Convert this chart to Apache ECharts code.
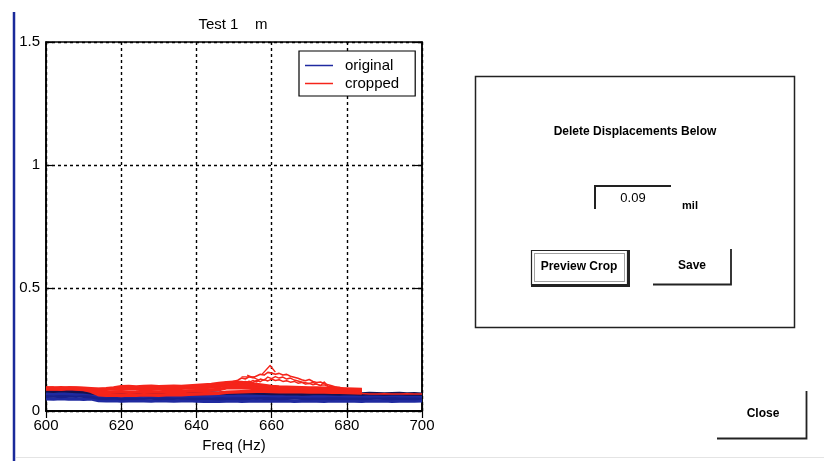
<!DOCTYPE html>
<html>
<head>
<meta charset="utf-8">
<script src="https://cdn.jsdelivr.net/npm/echarts@6/dist/echarts.min.js"></script>
<style>
  html, body { margin: 0; padding: 0; background: #fff; }
  #chart { width: 824px; height: 461px; }
</style>
</head>
<body>
<div id="chart"></div>
<script>
// Frequency grid (Hz) shared by the dense traces
const freq = [600,602,604,606,608,610,612,614,616,618,620,622,624,626,628,630,632,634,636,638,640,642,644,646,648,650,652,654,656,658,660,662,664,666,668,670,672,674,676,678,680,682,684,686,688,690,692,694,696,698,700];

// Original displacement traces (mil)
const blueA = [0.050,0.049,0.051,0.049,0.050,0.048,0.050, 0.043,0.042,0.043,0.041,0.042,0.043,0.042,0.041,0.043,0.042,0.041,0.042,0.043, 0.041,0.040,0.041,0.040,0.041,0.042,0.040,0.041,0.042,0.041, 0.042,0.041,0.042,0.040,0.041,0.042,0.041,0.040,0.042,0.041,0.042,0.041,0.040,0.042,0.041,0.042,0.040,0.041,0.042,0.041,0.042];
const blueB = [0.060,0.062,0.059,0.061,0.063,0.060,0.058, 0.053,0.052,0.054,0.051,0.053,0.052,0.054,0.053,0.051,0.053,0.052,0.054,0.052, 0.051,0.053,0.052,0.050,0.052,0.053,0.051,0.052,0.054,0.052, 0.053,0.051,0.052,0.054,0.052,0.051,0.053,0.052,0.051,0.053,0.052,0.053,0.051,0.052,0.054,0.052,0.051,0.053,0.052,0.051,0.053];
const blueC = [0.072,0.070,0.073,0.071,0.069,0.072,0.070, 0.063,0.062,0.064,0.061,0.063,0.062,0.060,0.063,0.062,0.064,0.061,0.062,0.063, 0.062,0.063,0.061,0.064,0.062,0.063,0.064,0.062,0.063,0.065, 0.063,0.062,0.064,0.063,0.062,0.061,0.063,0.062,0.064,0.063,0.062,0.063,0.062,0.061,0.063,0.062,0.064,0.062,0.063,0.062,0.061];
const blueD = [0.082,0.080,0.083,0.081,0.079,0.078,0.074, 0.070,0.071,0.069,0.072,0.070,0.071,0.069,0.070,0.072,0.071,0.070,0.069,0.071, 0.072,0.071,0.073,0.072,0.074,0.073,0.075,0.074,0.073,0.072, 0.071,0.072,0.070,0.071,0.069,0.070,0.072,0.071,0.070,0.069,0.071,0.070,0.069,0.071,0.070,0.069,0.070,0.071,0.069,0.070,0.068];

// Cropped displacement traces (mil)
const redA = [0.090,0.091,0.089,0.092,0.090,0.088,0.080, 0.066,0.064,0.065,0.063,0.065,0.064,0.066,0.065,0.064,0.066,0.067,0.066,0.068,0.069,0.070,0.071,0.072, 0.076,0.077,0.078,0.079,0.080,0.080,0.079, 0.078,0.078,0.079,0.078,0.077,0.078,0.077,0.076,0.076,0.075, 0.074,0.073, null,null,null,null,null,null,null,null];
const redB = [0.089,0.090,0.088,0.091,0.089,0.087,0.084, 0.076,0.075,0.077,0.078,0.076,0.077,0.079,0.078,0.077,0.079,0.080,0.079,0.081,0.082,0.083,0.085,0.087, 0.094,0.096,0.095,0.093,0.090,0.088,0.087, 0.086,0.085,0.085,0.084,0.083,0.083,0.082,0.082,0.081,0.080, 0.080,0.079, null,null,null,null,null,null,null,null];
const redC = [0.092,0.093,0.091,0.094,0.092,0.090,0.087, 0.087,0.088,0.090,0.089,0.091,0.090,0.092,0.091,0.090,0.092,0.093,0.092,0.094,0.095,0.096,0.098,0.100, 0.105,0.107,0.106,0.103,0.099,0.096,0.094, 0.092,0.091,0.090,0.089,0.088,0.088,0.087,0.086,0.086,0.085, 0.084,0.083, null,null,null,null,null,null,null,null];
const redD = [0.094,0.093,0.095,0.093,0.094,0.092,0.090, 0.088,0.090,0.094, 0.099,0.100,0.098,0.100,0.101,0.099,0.100,0.101,0.100,0.102,0.104,0.106,0.108,0.112, 0.115,0.117,0.116,0.112,0.108,0.104,0.100, 0.098,0.097,0.096,0.095,0.094,0.093,0.092,0.091,0.090,0.089, 0.088,0.087, null,null,null,null,null,null,null,null];
const redTail = [null,null,null,null,null,null,null,null,null,null,null,null,null,null,null,null,null,null,null,null,null,null,null,null,null,null,null,null,null,null,null,null,null,null,null,null,null,null,null,null,null, 0.075,0.071,0.069,0.069,0.070,0.069,0.069,0.070,0.069,0.069];

// Finer grid around the resonance bump
const bumpFreq = [644,645,646,647,648,649,650,651,652,653,654,655,656,657,658,659,660,661,662,663,664,665,666,667,668,669,670,671,672,673,674,675,676,677,678,679,680,681,682,683,684,685,686];
const bumpOuter = [0.104,0.108,0.115,0.112,0.118,0.116,0.121,0.125,0.134,0.130,0.139,0.135,0.142,0.149,0.146,0.157,0.154,0.149,0.153,0.146,0.149,0.141,0.137,0.133,0.127,0.123,0.128,0.120,0.116,0.118,0.111,0.107,0.103,0.098,0.094,0.088,0.086,0.088,0.090,0.088,0.089,null,null];
const bumpInner = [0.100,0.104,0.102,0.108,0.105,0.112,0.109,0.115,0.112,0.120,0.116,0.124,0.118,0.130,0.125,0.138,0.132,0.140,0.134,0.138,0.130,0.134,0.126,0.122,0.118,0.115,0.112,0.116,0.108,0.104,0.106,0.100,0.097,0.093,0.090,0.086,0.084,0.082,0.083,null,null,null,null];
const bumpMid = [0.098,0.100,0.106,0.103,0.110,0.107,0.114,0.110,0.118,0.113,0.121,0.115,0.125,0.119,0.128,0.122,0.130,0.124,0.127,0.120,0.123,0.117,0.120,0.113,0.116,0.109,0.112,0.106,0.110,0.103,0.118,0.101,0.099,0.095,0.097,0.092,0.090,0.091,0.087,0.085,0.086,null,null];

// Short stray strokes near the peak
const spikeFreq = [657.5, 659.6, 661.0];
const spikeVal = [0.150, 0.185, 0.158];
const strayFreq1 = [653.5, 656.7];
const strayVal1 = [0.146, 0.126];
const strayFreq2 = [652.0, 655.6];
const strayVal2 = [0.139, 0.139];

// Axis ticks
const xTicks = { min: 600, max: 700, step: 20 };
const yTicks = { min: 0, max: 1.5, step: 0.5 };

const FONT = "'Liberation Sans', Arial, Helvetica, sans-serif";
const BLUE = '#1f2aa0';
const NAVY = '#121250';
const RED = '#f5241a';

function pairs(xs, ys) {
  const out = [];
  for (let i = 0; i < xs.length; i++) {
    if (ys[i] !== null && ys[i] !== undefined) out.push([xs[i], ys[i]]);
  }
  return out;
}

function trace(name, xs, ys, color, width) {
  return {
    name: name,
    type: 'line',
    data: pairs(xs, ys),
    showSymbol: false,
    symbol: 'none',
    silent: true,
    animation: false,
    itemStyle: { color: name === 'original' ? BLUE : RED },
    lineStyle: { color: color, width: width, join: 'round' },
    emphasis: { disabled: true }
  };
}

const chart = echarts.init(document.getElementById('chart'), null, { renderer: 'canvas' });

const axisLineStyle = { color: '#000', width: 1.5 };
const gridDash = { color: '#000', width: 1.4, type: [3, 3] };
const tickStyle = { show: true, inside: true, length: 7, lineStyle: { color: '#000', width: 1.2 } };

chart.setOption({
  backgroundColor: '#fff',
  animation: false,
  title: {
    text: 'Test 1    m',
    left: 233,
    top: 17,
    padding: 0,
    textAlign: 'center',
    textStyle: { fontFamily: FONT, fontSize: 15, fontWeight: 'normal', color: '#000' }
  },
  legend: {
    data: ['original', 'cropped'],
    orient: 'vertical',
    left: 299,
    top: 51,
    padding: [7, 16, 5, 6],
    itemWidth: 28,
    itemHeight: 1.5,
    itemGap: 3,
    icon: 'rect',
    backgroundColor: '#fff',
    borderColor: '#000',
    borderWidth: 1.2,
    selectedMode: false,
    textStyle: { fontFamily: FONT, fontSize: 15, color: '#000', lineHeight: 15, padding: [0, 0, 0, 7] }
  },
  grid: {
    left: 46, top: 42, right: 402, bottom: 50,
    show: true, borderColor: '#000', borderWidth: 1.5, backgroundColor: '#fff'
  },
  xAxis: [{
    type: 'value', min: xTicks.min, max: xTicks.max, interval: xTicks.step,
    axisLine: { show: true, lineStyle: axisLineStyle },
    axisTick: tickStyle,
    axisLabel: { margin: 7, fontFamily: FONT, fontSize: 15, color: '#000' },
    splitLine: { show: true, lineStyle: gridDash },
    name: 'Freq (Hz)', nameLocation: 'middle', nameGap: 26,
    nameTextStyle: { fontFamily: FONT, fontSize: 15, color: '#000' }
  }, {
    type: 'value', position: 'top', min: xTicks.min, max: xTicks.max, interval: xTicks.step,
    axisLine: { show: true, lineStyle: axisLineStyle },
    axisTick: tickStyle,
    axisLabel: { show: false }, splitLine: { show: false }
  }],
  yAxis: [{
    type: 'value', min: yTicks.min, max: yTicks.max, interval: yTicks.step,
    axisLine: { show: true, lineStyle: axisLineStyle },
    axisTick: tickStyle,
    axisLabel: { margin: 6, fontFamily: FONT, fontSize: 15, color: '#000' },
    splitLine: { show: true, lineStyle: gridDash }
  }, {
    type: 'value', position: 'right', min: yTicks.min, max: yTicks.max, interval: yTicks.step,
    axisLine: { show: true, lineStyle: axisLineStyle },
    axisTick: tickStyle,
    axisLabel: { show: false }, splitLine: { show: false }
  }],
  series: [
    trace('original', freq, blueA, BLUE, 3.5),
    trace('original', freq, blueB, '#18208a', 3.5),
    trace('original', freq, blueC, BLUE, 3.5),
    trace('original', freq, blueD, NAVY, 3.5),
    trace('cropped', freq, redA, RED, 3.5),
    trace('cropped', freq, redB, RED, 3.5),
    trace('cropped', freq, redC, RED, 3.5),
    trace('cropped', freq, redD, RED, 3.5),
    trace('cropped', freq, redTail, RED, 1.4),
    trace('cropped', bumpFreq, bumpOuter, RED, 1.6),
    trace('cropped', bumpFreq, bumpMid, RED, 1.4),
    trace('cropped', bumpFreq, bumpInner, RED, 1.4),
    trace('cropped', spikeFreq, spikeVal, RED, 1.4),
    trace('cropped', strayFreq1, strayVal1, RED, 1.3),
    trace('cropped', strayFreq2, strayVal2, RED, 1.3)
  ],
  graphic: [
    // window edge on the left
    { type: 'line', silent: true, shape: { x1: 14, y1: 12, x2: 14, y2: 461 }, style: { stroke: '#1a2a9a', lineWidth: 2.5 } },
    { type: 'line', silent: true, shape: { x1: 16, y1: 457.5, x2: 824, y2: 457.5 }, style: { stroke: '#e4e4e4', lineWidth: 1 } },
    // crop settings panel
    { type: 'rect', silent: true, shape: { x: 475.5, y: 76.5, width: 319, height: 251 }, style: { fill: 'none', stroke: '#222', lineWidth: 1.5 } },
    { type: 'text', silent: true, x: 635, y: 132, style: { text: 'Delete Displacements Below', font: 'bold 12px ' + FONT, fill: '#000', align: 'center', verticalAlign: 'middle' } },
    { type: 'polyline', silent: true, shape: { points: [[595, 209], [595, 186], [671, 186]] }, style: { fill: 'none', stroke: '#222', lineWidth: 2 } },
    { type: 'text', silent: true, x: 633, y: 198, style: { text: '0.09', font: '13px ' + FONT, fill: '#000', align: 'center', verticalAlign: 'middle' } },
    { type: 'text', silent: true, x: 690, y: 206, style: { text: 'mil', font: 'bold 11px ' + FONT, fill: '#000', align: 'center', verticalAlign: 'middle' } },
    // Preview Crop button (focused)
    { type: 'rect', silent: true, shape: { x: 531.5, y: 250.5, width: 96, height: 34 }, style: { fill: 'none', stroke: '#222', lineWidth: 1.2 } },
    { type: 'rect', silent: true, shape: { x: 534.5, y: 253.5, width: 90, height: 28 }, style: { fill: 'none', stroke: '#444', lineWidth: 1, lineDash: [1, 1] } },
    { type: 'polyline', silent: true, shape: { points: [[629, 250], [629, 286], [531, 286]] }, style: { fill: 'none', stroke: '#222', lineWidth: 2 } },
    { type: 'text', silent: true, x: 579, y: 267, style: { text: 'Preview Crop', font: 'bold 12px ' + FONT, fill: '#000', align: 'center', verticalAlign: 'middle' } },
    // Save button
    { type: 'polyline', silent: true, shape: { points: [[731, 249], [731, 284.5], [653, 284.5]] }, style: { fill: 'none', stroke: '#222', lineWidth: 1.8 } },
    { type: 'text', silent: true, x: 692, y: 266, style: { text: 'Save', font: 'bold 12px ' + FONT, fill: '#000', align: 'center', verticalAlign: 'middle' } },
    // Close button
    { type: 'polyline', silent: true, shape: { points: [[806.5, 391], [806.5, 438.5], [717, 438.5]] }, style: { fill: 'none', stroke: '#222', lineWidth: 1.8 } },
    { type: 'text', silent: true, x: 763, y: 414, style: { text: 'Close', font: 'bold 12px ' + FONT, fill: '#000', align: 'center', verticalAlign: 'middle' } }
  ]
});
</script>
</body>
</html>
